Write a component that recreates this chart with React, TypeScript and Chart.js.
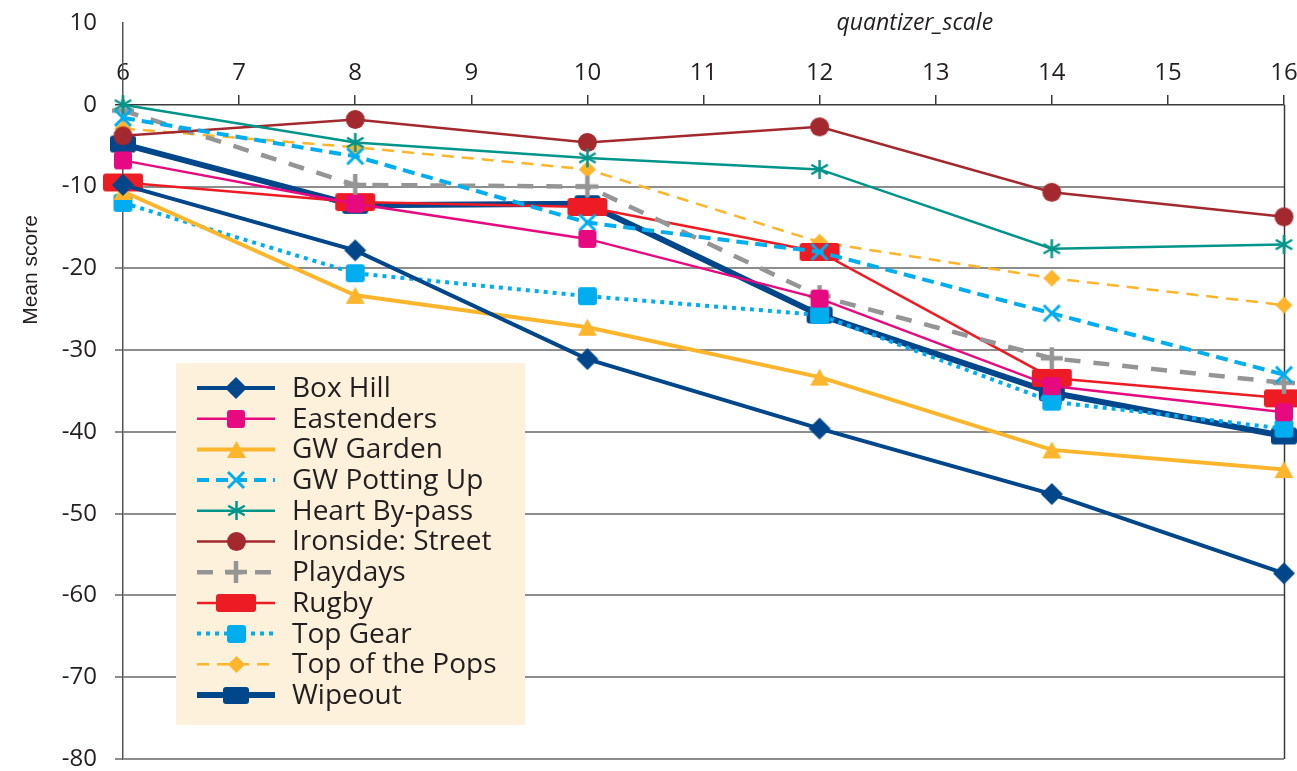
import React, { useEffect, useRef } from "react";
import { Chart, registerables } from "chart.js";

Chart.register(...registerables);

// quantizer_scale values at which every clip was scored
const quantizerScale = [6, 8, 10, 12, 14, 16];
const xTickValues = [6, 7, 8, 9, 10, 11, 12, 13, 14, 15, 16];
const yTickValues = [10, 0, -10, -20, -30, -40, -50, -60, -70, -80];

const seriesNames = [
  "Box Hill",
  "Eastenders",
  "GW Garden",
  "GW Potting Up",
  "Heart By-pass",
  "Ironside: Street",
  "Playdays",
  "Rugby",
  "Top Gear",
  "Top of the Pops",
  "Wipeout",
];

// Mean score per clip, one value per quantizer_scale step
const boxHill = [-9.8, -17.8, -31.1, -39.6, -47.6, -57.3];
const eastenders = [-6.8, -12.1, -16.4, -23.7, -34.4, -37.6];
const gwGarden = [-10.6, -23.3, -27.2, -33.3, -42.2, -44.6];
const gwPottingUp = [-1.6, -6.3, -14.4, -18.0, -25.5, -33.0];
const heartBypass = [0.0, -4.6, -6.5, -7.9, -17.6, -17.1];
const ironsideStreet = [-3.8, -1.8, -4.6, -2.7, -10.7, -13.7];
const playdays = [-0.7, -9.8, -10.0, -23.4, -31.0, -34.0];
const rugby = [-9.5, -11.9, -12.5, -18.0, -33.4, -35.9];
const topGear = [-12.0, -20.6, -23.4, -25.7, -36.3, -39.6];
const topOfThePops = [-2.9, -5.2, -7.9, -16.8, -21.2, -24.5];
const wipeout = [-4.8, -12.3, -12.1, -25.7, -35.2, -40.5];

const seriesValues = [
  boxHill,
  eastenders,
  gwGarden,
  gwPottingUp,
  heartBypass,
  ironsideStreet,
  playdays,
  rugby,
  topGear,
  topOfThePops,
  wipeout,
];

type Shape = "diamond" | "box" | "triangle" | "cross" | "plus" | "asterisk" | "dot";
type Look = {
  color: string;
  width: number;
  dash: number[];
  shape: Shape;
  w: number;
  h: number;
  lw?: number;
  order?: number;
};

const NAVY = "#00468b";
const looks: Look[] = [
  { color: NAVY, width: 4, dash: [], shape: "diamond", w: 22, h: 22 },
  { color: "#e6097f", width: 2.5, dash: [], shape: "box", w: 18, h: 18 },
  { color: "#fdb52b", width: 4, dash: [], shape: "triangle", w: 19, h: 17 },
  { color: "#00aeef", width: 4, dash: [12, 7], shape: "cross", w: 16, h: 16, lw: 3 },
  { color: "#00958a", width: 2.5, dash: [], shape: "asterisk", w: 19, h: 19, lw: 2.5 },
  { color: "#a3292f", width: 2.5, dash: [], shape: "dot", w: 19, h: 19 },
  { color: "#959595", width: 4.5, dash: [16, 13], shape: "plus", w: 22, h: 22, lw: 4.5 },
  { color: "#ed1c24", width: 2.5, dash: [], shape: "box", w: 40, h: 18 },
  { color: "#00aeef", width: 4, dash: [4, 5], shape: "box", w: 19, h: 18 },
  { color: "#fdb52b", width: 2.5, dash: [12, 8], shape: "diamond", w: 17, h: 17 },
  { color: NAVY, width: 6, dash: [], shape: "box", w: 26, h: 17, order: 1 },
];

const FONT = '"Open Sans", "DejaVu Sans", sans-serif';
const INK = "#231f20";

function roundedRect(g: CanvasRenderingContext2D, x: number, y: number, w: number, h: number, r: number) {
  g.moveTo(x + r, y);
  g.lineTo(x + w - r, y);
  g.quadraticCurveTo(x + w, y, x + w, y + r);
  g.lineTo(x + w, y + h - r);
  g.quadraticCurveTo(x + w, y + h, x + w - r, y + h);
  g.lineTo(x + r, y + h);
  g.quadraticCurveTo(x, y + h, x, y + h - r);
  g.lineTo(x, y + r);
  g.quadraticCurveTo(x, y, x + r, y);
  g.closePath();
}

// Paints one marker glyph on its own small canvas, used as a Chart.js pointStyle
function makeMarker(look: Look): HTMLCanvasElement {
  const pad = 3;
  const c = document.createElement("canvas");
  c.width = Math.round(look.w + pad * 2);
  c.height = Math.round(look.h + pad * 2);
  const g = c.getContext("2d") as CanvasRenderingContext2D;
  const cx = c.width / 2;
  const cy = c.height / 2;
  const hw = look.w / 2;
  const hh = look.h / 2;
  g.fillStyle = look.color;
  g.strokeStyle = look.color;
  g.lineWidth = look.lw ?? 2;
  g.lineCap = "butt";
  g.beginPath();
  switch (look.shape) {
    case "diamond":
      g.moveTo(cx, cy - hh);
      g.lineTo(cx + hw, cy);
      g.lineTo(cx, cy + hh);
      g.lineTo(cx - hw, cy);
      g.closePath();
      g.fill();
      break;
    case "box":
      roundedRect(g, cx - hw, cy - hh, look.w, look.h, 3);
      g.fill();
      break;
    case "triangle":
      g.moveTo(cx, cy - hh);
      g.lineTo(cx + hw, cy + hh);
      g.lineTo(cx - hw, cy + hh);
      g.closePath();
      g.fill();
      break;
    case "dot":
      g.arc(cx, cy, hw, 0, Math.PI * 2);
      g.fill();
      break;
    case "cross":
      g.moveTo(cx - hw, cy - hh);
      g.lineTo(cx + hw, cy + hh);
      g.moveTo(cx + hw, cy - hh);
      g.lineTo(cx - hw, cy + hh);
      g.stroke();
      break;
    case "plus":
      g.moveTo(cx - hw, cy);
      g.lineTo(cx + hw, cy);
      g.moveTo(cx, cy - hh);
      g.lineTo(cx, cy + hh);
      g.stroke();
      break;
    case "asterisk":
      for (const deg of [90, 30, 150]) {
        const a = (deg * Math.PI) / 180;
        g.moveTo(cx - Math.cos(a) * hw, cy - Math.sin(a) * hh);
        g.lineTo(cx + Math.cos(a) * hw, cy + Math.sin(a) * hh);
      }
      g.stroke();
      break;
  }
  return c;
}

// Cream legend panel with line samples, drawn over the lower-left of the plot
const boxLegend = {
  id: "boxLegend",
  afterDraw(chart: any) {
    const ctx: CanvasRenderingContext2D = chart.ctx;
    const left = 176;
    const top = 363;
    const rowTop = 388;
    const rowStep = 30.7;
    ctx.save();
    ctx.fillStyle = "#fdf1dc";
    ctx.fillRect(left, top, 349, 362);
    chart.data.datasets.forEach((ds: any, i: number) => {
      const y = rowTop + i * rowStep;
      ctx.beginPath();
      ctx.strokeStyle = ds.borderColor;
      ctx.lineWidth = ds.borderWidth;
      ctx.setLineDash(ds.borderDash || []);
      ctx.moveTo(197, y);
      ctx.lineTo(275, y);
      ctx.stroke();
      ctx.setLineDash([]);
      const img: HTMLCanvasElement = ds.pointStyle;
      ctx.drawImage(img, Math.round(236 - img.width / 2), Math.round(y - img.height / 2));
      ctx.fillStyle = INK;
      ctx.font = `28px ${FONT}`;
      ctx.textAlign = "left";
      ctx.textBaseline = "middle";
      ctx.fillText(ds.label, 292, y + 1);
    });
    ctx.restore();
  },
};

// Right-hand frame line below the axis, plus the two axis captions
const frameAndCaptions = {
  id: "frameAndCaptions",
  beforeDatasetsDraw(chart: any) {
    const { x, y } = chart.scales;
    const ctx: CanvasRenderingContext2D = chart.ctx;
    const px = Math.round(x.getPixelForValue(xTickValues[xTickValues.length - 1])) + 0.5;
    ctx.save();
    ctx.strokeStyle = "#3a3a3a";
    ctx.lineWidth = 1.5;
    ctx.beginPath();
    ctx.moveTo(px, y.getPixelForValue(0));
    ctx.lineTo(px, y.getPixelForValue(-80));
    ctx.stroke();
    ctx.restore();
  },
  afterDraw(chart: any) {
    const ctx: CanvasRenderingContext2D = chart.ctx;
    const area = chart.chartArea;
    ctx.save();
    ctx.fillStyle = INK;
    ctx.font = `italic 23px ${FONT}`;
    ctx.textAlign = "center";
    ctx.textBaseline = "middle";
    ctx.fillText("quantizer_scale", area.left + (area.right - area.left) * 0.682, 23);
    ctx.translate(31, 270);
    ctx.rotate(-Math.PI / 2);
    ctx.font = '21px "Liberation Sans Narrow", "Liberation Sans", sans-serif';
    ctx.fillText("Mean score", 0, 0);
    ctx.restore();
  },
};

export default function App() {
  const ref = useRef<HTMLCanvasElement | null>(null);

  useEffect(() => {
    if (!ref.current) return;
    const datasets = seriesNames.map((name, i) => {
      const look = looks[i];
      return {
        label: name,
        data: quantizerScale.map((q, j) => ({ x: q, y: seriesValues[i][j] })),
        borderColor: look.color,
        backgroundColor: look.color,
        borderWidth: look.width,
        borderDash: look.dash,
        pointStyle: makeMarker(look),
        pointRadius: 6,
        pointHoverRadius: 6,
        tension: 0,
        fill: false,
        clip: false,
        order: look.order ?? 0,
      };
    });

    const chart = new Chart(ref.current, {
      type: "line",
      data: { datasets } as any,
      options: {
        animation: false,
        responsive: true,
        maintainAspectRatio: false,
        devicePixelRatio: 1,
        events: [],
        layout: { padding: { top: 23, right: 13, bottom: 9, left: 0 } },
        plugins: {
          legend: { display: false },
          tooltip: { enabled: false },
          title: { display: false },
        },
        scales: {
          x: {
            type: "linear",
            position: { y: 0 } as any,
            min: 6,
            max: 16,
            afterBuildTicks: (s: any) => {
              s.ticks = xTickValues.map((value) => ({ value }));
            },
            afterFit: (s: any) => {
              s.height = 0;
              s.paddingLeft = 0;
              s.paddingRight = 0;
            },
            grid: {
              drawOnChartArea: false,
              drawTicks: true,
              tickLength: -10,
              color: "#3a3a3a",
              lineWidth: 1.5,
            },
            border: { display: false },
            ticks: {
              padding: -36,
              autoSkip: false,
              maxRotation: 0,
              color: INK,
              font: { family: FONT, size: 24 },
            },
          },
          y: {
            type: "linear",
            position: "left",
            min: -80,
            max: 10,
            afterBuildTicks: (s: any) => {
              s.ticks = yTickValues.map((value) => ({ value }));
            },
            afterFit: (s: any) => {
              s.width = 123;
              s.paddingTop = 0;
              s.paddingBottom = 0;
            },
            grid: {
              tickLength: 8,
              color: (c: any) =>
                c.tick.value === 10 ? "rgba(0,0,0,0)" : c.tick.value === 0 ? "#3a3a3a" : "#8d8d8d",
              lineWidth: (c: any) => (c.tick.value === 0 ? 1.5 : 2),
            },
            border: { display: true, color: "#555555", width: 1.5 },
            ticks: {
              padding: 18,
              color: INK,
              font: { family: FONT, size: 24 },
            },
          },
        },
      } as any,
      plugins: [frameAndCaptions, boxLegend],
    });

    return () => chart.destroy();
  }, []);

  return (
    <div style={{ position: "fixed", left: 0, top: 0, width: 1297, height: 771, background: "#ffffff" }}>
      <canvas ref={ref} />
    </div>
  );
}
